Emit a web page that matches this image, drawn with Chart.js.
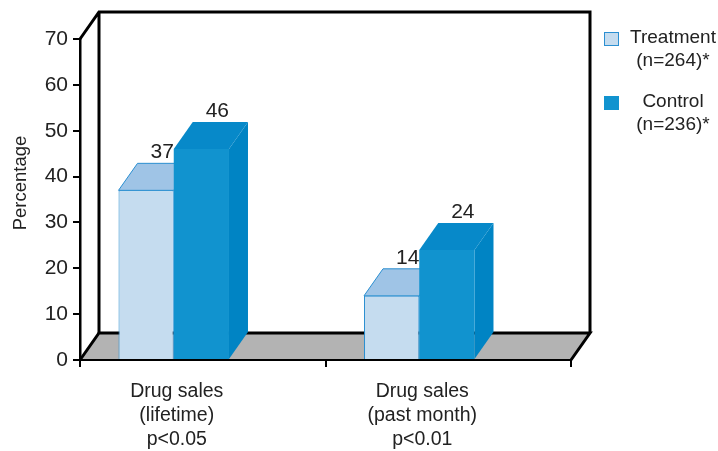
<!DOCTYPE html>
<html lang="en">
<head>
  <meta charset="UTF-8">
  <title>Drug sales</title>
  <script src="https://cdn.jsdelivr.net/npm/chart.js"></script>
  <style>
    html, body { margin: 0; padding: 0; background: #fff; }
    #wrap { width: 718px; height: 451px; }
  </style>
</head>
<body>
  <div id="wrap"><canvas id="salesChart"></canvas></div>

  <script>
    // Chart data
    const categories = [
      ['Drug sales', '(lifetime)', 'p<0.05'],
      ['Drug sales', '(past month)', 'p<0.01']
    ];
    const treatment = [37, 14];
    const control = [46, 24];
    const seriesNames = [['Treatment', '(n=264)*'], ['Control', '(n=236)*']];
    const yMin = 0, yMax = 70, yStep = 10;

    const FONT = '"Liberation Sans", Arial, Helvetica, sans-serif';
    const TEXT = '#222';

    // 3D look: depth offset of the box and shift of the bar group
    const DX = 19, DY = -27, SHIFT = -29;

    const colors = {
      treatment: { front: '#c5dcef', top: '#9fc4e6', side: '#8dbbe3', edge: '#2b8fd1' },
      control:   { front: '#1193cf', top: '#0789c9', side: '#0084c4', edge: '#1193cf' }
    };
    const palette = [colors.treatment, colors.control];

    function poly(ctx, pts, fill, stroke) {
      ctx.beginPath();
      ctx.moveTo(pts[0][0], pts[0][1]);
      for (let i = 1; i < pts.length; i++) ctx.lineTo(pts[i][0], pts[i][1]);
      ctx.closePath();
      ctx.fillStyle = fill;
      ctx.fill();
      if (stroke) {
        ctx.strokeStyle = stroke;
        ctx.lineWidth = 1;
        ctx.stroke();
      }
    }

    const box3d = {
      id: 'box3d',
      beforeDatasetsDraw(chart) {
        const { ctx, chartArea: a } = chart;
        ctx.save();
        // floor
        poly(ctx, [[a.left, a.bottom], [a.right, a.bottom], [a.right + DX, a.bottom + DY], [a.left + DX, a.bottom + DY]], '#b3b3b3');
        ctx.strokeStyle = '#000';
        ctx.lineWidth = 3;
        ctx.lineJoin = 'miter';
        ctx.beginPath();
        ctx.moveTo(a.left, a.bottom);
        ctx.lineTo(a.left + DX, a.bottom + DY);
        ctx.lineTo(a.right + DX, a.bottom + DY);
        ctx.lineTo(a.right, a.bottom);
        ctx.stroke();
        // back wall
        ctx.beginPath();
        ctx.moveTo(a.left, a.top);
        ctx.lineTo(a.left + DX, a.top + DY);
        ctx.lineTo(a.right + DX, a.top + DY);
        ctx.lineTo(a.right + DX, a.bottom + DY);
        ctx.moveTo(a.left + DX, a.top + DY);
        ctx.lineTo(a.left + DX, a.bottom + DY);
        ctx.stroke();
        ctx.restore();

        // top and side faces; the front faces are drawn by Chart.js
        ctx.save();
        ctx.translate(SHIFT, 0);
        chart.data.datasets.forEach((ds, i) => {
          const c = palette[i];
          chart.getDatasetMeta(i).data.forEach(bar => {
            const { x, y, base, width } = bar.getProps(['x', 'y', 'base', 'width'], true);
            const l = x - width / 2, r = x + width / 2;
            poly(ctx, [[r, y], [r + DX, y + DY], [r + DX, base + DY], [r, base]], c.side);
            poly(ctx, [[l, y], [l + DX, y + DY], [r + DX, y + DY], [r, y]], c.top, i === 0 ? c.edge : null);
          });
        });
      },
      afterDatasetsDraw(chart) {
        const { ctx, chartArea: a } = chart;
        ctx.restore();
        ctx.save();

        // front edge of the floor
        ctx.strokeStyle = '#000';
        ctx.lineWidth = 2;
        ctx.beginPath();
        ctx.moveTo(a.left, a.bottom);
        ctx.lineTo(a.right, a.bottom);
        ctx.stroke();

        // value labels
        ctx.fillStyle = TEXT;
        ctx.font = '21px ' + FONT;
        ctx.textAlign = 'center';
        ctx.textBaseline = 'alphabetic';
        chart.data.datasets.forEach((ds, i) => {
          chart.getDatasetMeta(i).data.forEach((bar, j) => {
            const { x, y } = bar.getProps(['x', 'y'], true);
            ctx.fillText(String(ds.data[j]), x + SHIFT + 16, y + DY - 5);
          });
        });

        // y axis title
        ctx.save();
        ctx.translate(26, 183);
        ctx.rotate(-Math.PI / 2);
        ctx.font = '18.5px ' + FONT;
        ctx.textAlign = 'center';
        ctx.fillText('Percentage', 0, 0);
        ctx.restore();

        // legend
        const legendTop = [32, 96];
        ctx.font = '19px ' + FONT;
        seriesNames.forEach((lines, i) => {
          const c = palette[i];
          ctx.fillStyle = c.front;
          ctx.fillRect(604.5, legendTop[i] + 0.5, 14, 13);
          ctx.strokeStyle = c.edge;
          ctx.lineWidth = 1;
          ctx.strokeRect(604.5, legendTop[i] + 0.5, 14, 13);
          ctx.fillStyle = TEXT;
          lines.forEach((t, k) => ctx.fillText(t, 673, legendTop[i] + 11 + k * 22.5));
        });
        ctx.restore();
      }
    };

    const ctx = document.getElementById('salesChart').getContext('2d');
    new Chart(ctx, {
      type: 'bar',
      data: {
        labels: categories,
        datasets: [
          {
            label: seriesNames[0].join(' '),
            data: treatment,
            backgroundColor: colors.treatment.front,
            borderColor: colors.treatment.edge,
            borderWidth: 1,
            borderSkipped: 'bottom'
          },
          {
            label: seriesNames[1].join(' '),
            data: control,
            backgroundColor: colors.control.front,
            borderWidth: 0
          }
        ]
      },
      options: {
        responsive: true,
        maintainAspectRatio: false,
        animation: false,
        categoryPercentage: 0.45,
        barPercentage: 1.0,
        layout: { padding: { top: 39, right: 147, left: 0, bottom: 0 } },
        plugins: {
          legend: { display: false },
          tooltip: { enabled: false }
        },
        scales: {
          x: {
            afterFit(scale) { scale.height = 91; },
            grid: {
              offset: true,
              drawOnChartArea: false,
              color: '#000',
              lineWidth: 2,
              tickLength: 7
            },
            border: { display: true, color: '#000', width: 2 },
            ticks: {
              color: TEXT,
              font: { family: FONT, size: 19.5, lineHeight: 1.23 },
              labelOffset: -26,
              padding: 13,
              maxRotation: 0
            }
          },
          y: {
            min: yMin,
            max: yMax,
            afterFit(scale) { scale.width = 80; },
            grid: {
              drawOnChartArea: false,
              color: '#000',
              lineWidth: 2,
              tickLength: 7
            },
            border: { display: true, color: '#000', width: 2.5 },
            ticks: {
              stepSize: yStep,
              color: TEXT,
              font: { family: FONT, size: 21 },
              padding: 5
            }
          }
        }
      },
      plugins: [box3d]
    });
  </script>
</body>
</html>
